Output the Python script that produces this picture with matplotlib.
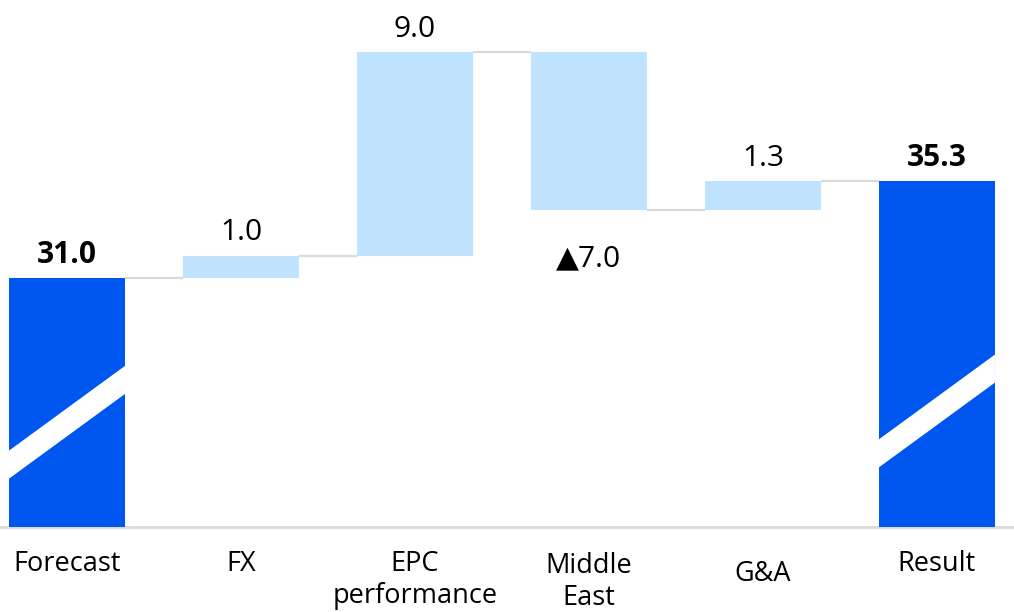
import numpy as np
import matplotlib.pyplot as plt

plt.rcParams['font.family'] = ['Open Sans', 'DejaVu Sans']

# data
categories = ['Forecast', 'FX', 'EPC\nperformance', 'Middle\nEast', 'G&A', 'Result']
values = [31.0, 1.0, 9.0, -7.0, 1.3, 35.3]
is_total = [True, False, False, False, False, True]

dark_blue = '#0057F0'
light_blue = '#BFE3FE'
grey = '#d9d9d9'

fig = plt.figure(figsize=(10.14, 6.12), dpi=100)
ax = fig.add_axes([0, 85 / 612, 1, 527 / 612])
ax.set_xlim(-0.385, 5.443)
ax.set_ylim(20, 43.3)
ax.axis('off')

width = 0.667
x = np.arange(len(values))

# bottoms / tops of each bar
bottoms, tops = [], []
level = 0.0
for v, tot in zip(values, is_total):
    if tot:
        bottoms.append(20)
        tops.append(v)
        level = v
    else:
        new = level + v
        bottoms.append(min(level, new))
        tops.append(max(level, new))
        level = new
bottoms = np.array(bottoms)
tops = np.array(tops)
colors = [dark_blue if t else light_blue for t in is_total]

ax.bar(x, tops - bottoms, bottom=bottoms, width=width, color=colors, zorder=2)

# connectors at the running level
running = np.cumsum([0 if t else v for v, t in zip(values, is_total)]) + values[0]
for i in range(len(values) - 1):
    lvl = running[i] if not is_total[i] else values[i]
    ax.plot([x[i] + width / 2, x[i + 1] - width / 2], [lvl, lvl],
            color=grey, lw=1.6, zorder=1, solid_capstyle='butt')

# axis break stripes on the total bars
stripe_centre = {0: 24.63, 5: 25.13}
slope = 5.62
half_t = 0.62
hw = width / 2
for i, yc in stripe_centre.items():
    cx = x[i]
    px = [cx - hw, cx + hw, cx + hw, cx - hw]
    py = [yc - slope * hw - half_t, yc + slope * hw - half_t,
          yc + slope * hw + half_t, yc - slope * hw + half_t]
    ax.fill(px, py, color='white', lw=0, zorder=3)

# baseline
ax.axhline(20, color=grey, lw=2, clip_on=False, zorder=1)

# value labels
for i, (v, tot) in enumerate(zip(values, is_total)):
    if v < 0:
        ax.annotate('▲{:.1f}'.format(abs(v)), (x[i], bottoms[i]), xytext=(0, -40),
                    textcoords='offset points', ha='center', va='baseline', fontsize=21.5)
    else:
        ax.annotate('{:.1f}'.format(v), (x[i], tops[i]), xytext=(0, 11),
                    textcoords='offset points', ha='center', va='baseline', fontsize=21.5,
                    fontweight='bold' if tot else 'normal')

# category labels (vertical offsets in px below baseline)
label_dy = [37, 37, 53, 55, 47, 37]
for i, lab in enumerate(categories):
    ax.annotate(lab, (x[i], 0), xycoords=('data', 'axes fraction'),
                xytext=(0, -label_dy[i] * 0.72), textcoords='offset points',
                ha='center', va='center', fontsize=19.5, linespacing=1.2)

fig.savefig('out.png', dpi=100)
